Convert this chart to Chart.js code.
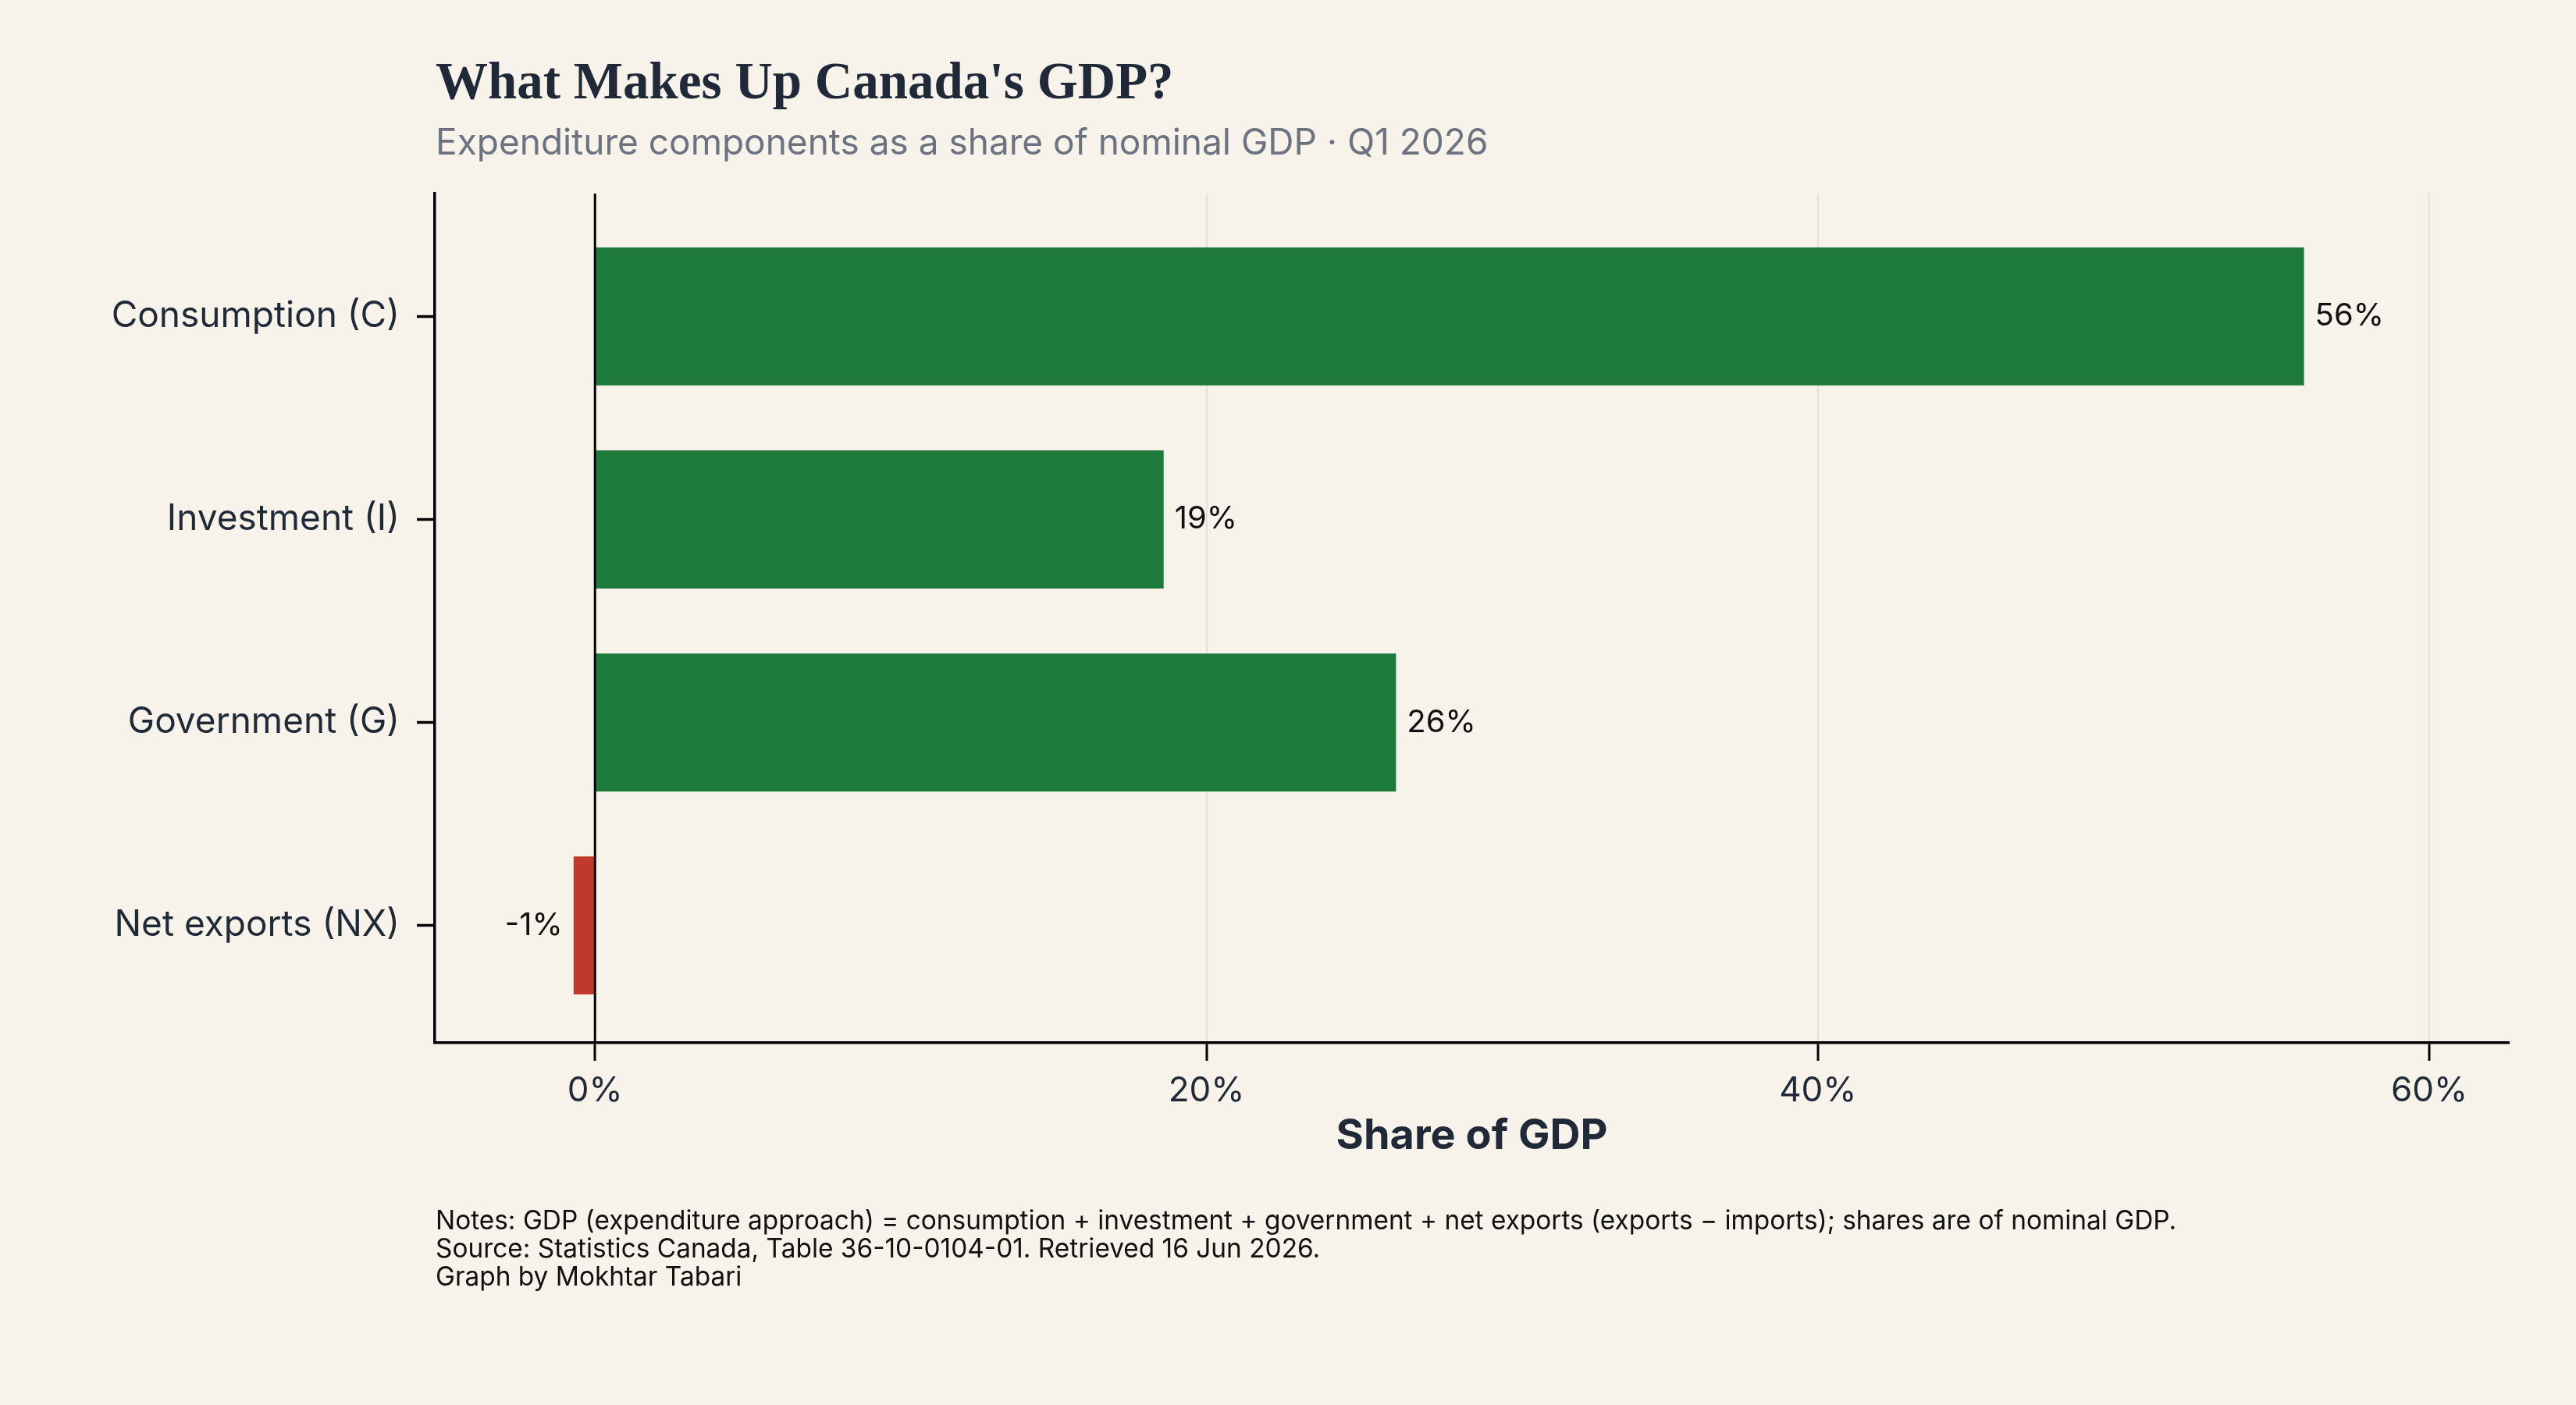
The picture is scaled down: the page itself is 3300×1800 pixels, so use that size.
<!DOCTYPE html>
<html lang="en">
  <head>
    <meta charset="UTF-8" />
    <title>What Makes Up Canada's GDP?</title>
    <script src="https://cdn.jsdelivr.net/npm/chart.js"></script>
    <style>
      body { margin: 0; background: #f7f3ea; }
      .wrap { position: relative; width: 3300px; height: 1800px; background: #f7f3ea; }
      canvas { position: absolute; left: 0; top: 0; }
      .title { position: absolute; left: 558px; top: 70px; font: bold 67px "Liberation Serif", serif; color: #1f2937; line-height: 1; white-space: nowrap; }
      .subtitle { position: absolute; left: 558px; top: 158px; font: 46px Inter, sans-serif; color: #6b7280; line-height: 1; white-space: nowrap; }
      .notes { position: absolute; left: 558px; top: 1545px; font: 33.4px Inter, sans-serif; color: #111; line-height: 36px; white-space: nowrap; }
    </style>
  </head>
  <body>
    <div class="wrap">
      <canvas id="gdpChart" width="3300" height="1800"></canvas>
      <div class="title">What Makes Up Canada's GDP?</div>
      <div class="subtitle">Expenditure components as a share of nominal GDP · Q1 2026</div>
      <div class="notes">
        Notes: GDP (expenditure approach) = consumption + investment + government + net exports (exports − imports); shares are of nominal GDP.<br>
        Source: Statistics Canada, Table 36-10-0104-01. Retrieved 16 Jun 2026.<br>
        Graph by Mokhtar Tabari
      </div>
    </div>

    <script>
      const categories = ["Consumption (C)", "Investment (I)", "Government (G)", "Net exports (NX)"];
      const shares = [55.9, 18.6, 26.2, -0.7];
      const xTicks = [0, 20, 40, 60];

      const GREEN = "#1e7a3a";
      const RED = "#c0392b";
      const INK = "#1f2937";

      // zero reference line drawn over the bars
      const zeroLine = {
        id: "zeroLine",
        afterDatasetsDraw(chart) {
          const { ctx, chartArea, scales } = chart;
          const x0 = scales.x.getPixelForValue(0);
          ctx.save();
          ctx.strokeStyle = "#000";
          ctx.lineWidth = 3;
          ctx.beginPath();
          ctx.moveTo(x0, chartArea.top);
          ctx.lineTo(x0, chartArea.bottom);
          ctx.stroke();
          ctx.restore();
        },
      };

      // percentage labels at the end of each bar
      const valueLabels = {
        id: "valueLabels",
        afterDatasetsDraw(chart) {
          const { ctx } = chart;
          const meta = chart.getDatasetMeta(0);
          ctx.save();
          ctx.font = "40px Inter, sans-serif";
          ctx.fillStyle = "#111";
          ctx.textBaseline = "middle";
          meta.data.forEach((bar, i) => {
            const v = shares[i];
            const label = Math.round(v) + "%";
            if (v < 0) {
              ctx.textAlign = "right";
              ctx.fillText(label, bar.x - 14, bar.y);
            } else {
              ctx.textAlign = "left";
              ctx.fillText(label, bar.x + 14, bar.y);
            }
          });
          ctx.restore();
        },
      };

      new Chart(document.getElementById("gdpChart"), {
        type: "bar",
        data: {
          datasets: [
            {
              data: shares.map((v, i) => ({ x: v, y: i })),
              backgroundColor: shares.map((v) => (v < 0 ? RED : GREEN)),
              borderWidth: 0,
              categoryPercentage: 1,
              barPercentage: 0.68,
            },
          ],
        },
        options: {
          indexAxis: "y",
          responsive: false,
          animation: false,
          layout: { padding: { left: 0, right: 86, top: 248, bottom: 0 } },
          plugins: { legend: { display: false }, tooltip: { enabled: false } },
          scales: {
            x: {
              type: "linear",
              min: -5.24,
              max: 62.6,
              afterBuildTicks: (axis) => {
                axis.ticks = xTicks.map((v) => ({ value: v }));
              },
              afterFit: (scale) => {
                scale.height = 464;
              },
              border: { display: true, color: "#000", width: 3.5 },
              grid: {
                color: "#e4e1da",
                lineWidth: 2,
                tickColor: "#000",
                tickWidth: 3,
                tickLength: 23,
              },
              ticks: {
                color: INK,
                font: { family: "Inter", size: 44 },
                padding: 12,
                callback: (v) => v + "%",
              },
              title: {
                display: true,
                text: "Share of GDP",
                color: INK,
                font: { family: "Inter", size: 54, weight: "bold" },
                padding: { bottom: 312 },
              },
            },
            y: {
              type: "linear",
              reverse: true,
              offset: false,
              min: -0.605,
              max: 3.578,
              afterBuildTicks: (axis) => {
                axis.ticks = categories.map((c, i) => ({ value: i }));
              },
              afterFit: (scale) => {
                scale.width = 557;
              },
              border: { display: true, color: "#000", width: 3.5 },
              grid: {
                offset: false,
                drawOnChartArea: false,
                tickColor: "#000",
                tickWidth: 3.5,
                tickLength: 23,
              },
              ticks: {
                color: INK,
                font: { family: "Inter", size: 46 },
                padding: 22,
                callback: (v) => categories[v],
              },
            },
          },
        },
        plugins: [zeroLine, valueLabels],
      });
    </script>
  </body>
</html>
